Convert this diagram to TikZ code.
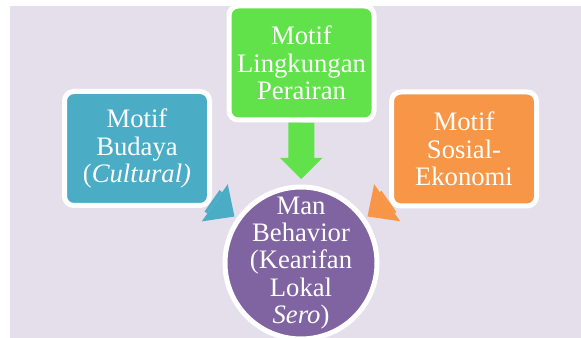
\documentclass[tikz,border=0pt]{standalone}
\usepackage{fontspec}
\setmainfont{Liberation Serif}
\usetikzlibrary{arrows.meta,backgrounds}

\definecolor{lavender}{HTML}{E5DFEC}
\definecolor{budayablue}{HTML}{4BACC6}
\definecolor{lingkungangreen}{HTML}{62E24A}
\definecolor{sosialorange}{HTML}{F79646}
\definecolor{manpurple}{HTML}{8064A2}

\begin{document}
\begin{tikzpicture}[
    x=0.75pt, y=-0.75pt,
    motif/.style={rectangle, rounded corners=7pt, draw=white, line width=3.75pt,
                  minimum width=108.75pt, minimum height=85.5pt, inner sep=2pt,
                  align=center, text=white, font=\fontsize{20}{20.5}\selectfont},
    man/.style={circle, draw=white, line width=3.75pt, fill=manpurple,
                minimum size=114pt, inner sep=-8pt,
                align=center, text=white, font=\fontsize{20}{20.5}\selectfont},
    flow/.style={line width=19.5pt, -{Triangle[length=16pt, width=32pt, line width=0pt]}},
    sideflow/.style={line width=19.5pt, -{Triangle[length=18pt, width=34pt, line width=0pt]}},
]
\useasboundingbox (0,0) rectangle (581,338);

\node[motif, fill=lingkungangreen] (lingkungan) at (301.5,63) {Motif\\Lingkungan\\Perairan};
\node[motif, fill=budayablue] (budaya) at (137,148.5) {Motif\\Budaya\\(\textit{Cultural)}};
\node[motif, fill=sosialorange] (sosial) at (464,149) {Motif\\Sosial-\\Ekonomi};
\node[man] (behavior) at (301,263) {Man\\Behavior\\(Kearifan\\Lokal\\\textit{Sero})};

\begin{scope}[on background layer]
  \fill[lavender] (10,6) rectangle (581,338);
  \draw[flow, draw=lingkungangreen, shorten >=4pt] (lingkungan) -- (behavior);
  \draw[sideflow, draw=budayablue, shorten >=2pt] (budaya) -- (behavior);
  \draw[sideflow, draw=sosialorange, shorten >=2pt] (sosial) -- (behavior);
\end{scope}
\end{tikzpicture}
\end{document}
